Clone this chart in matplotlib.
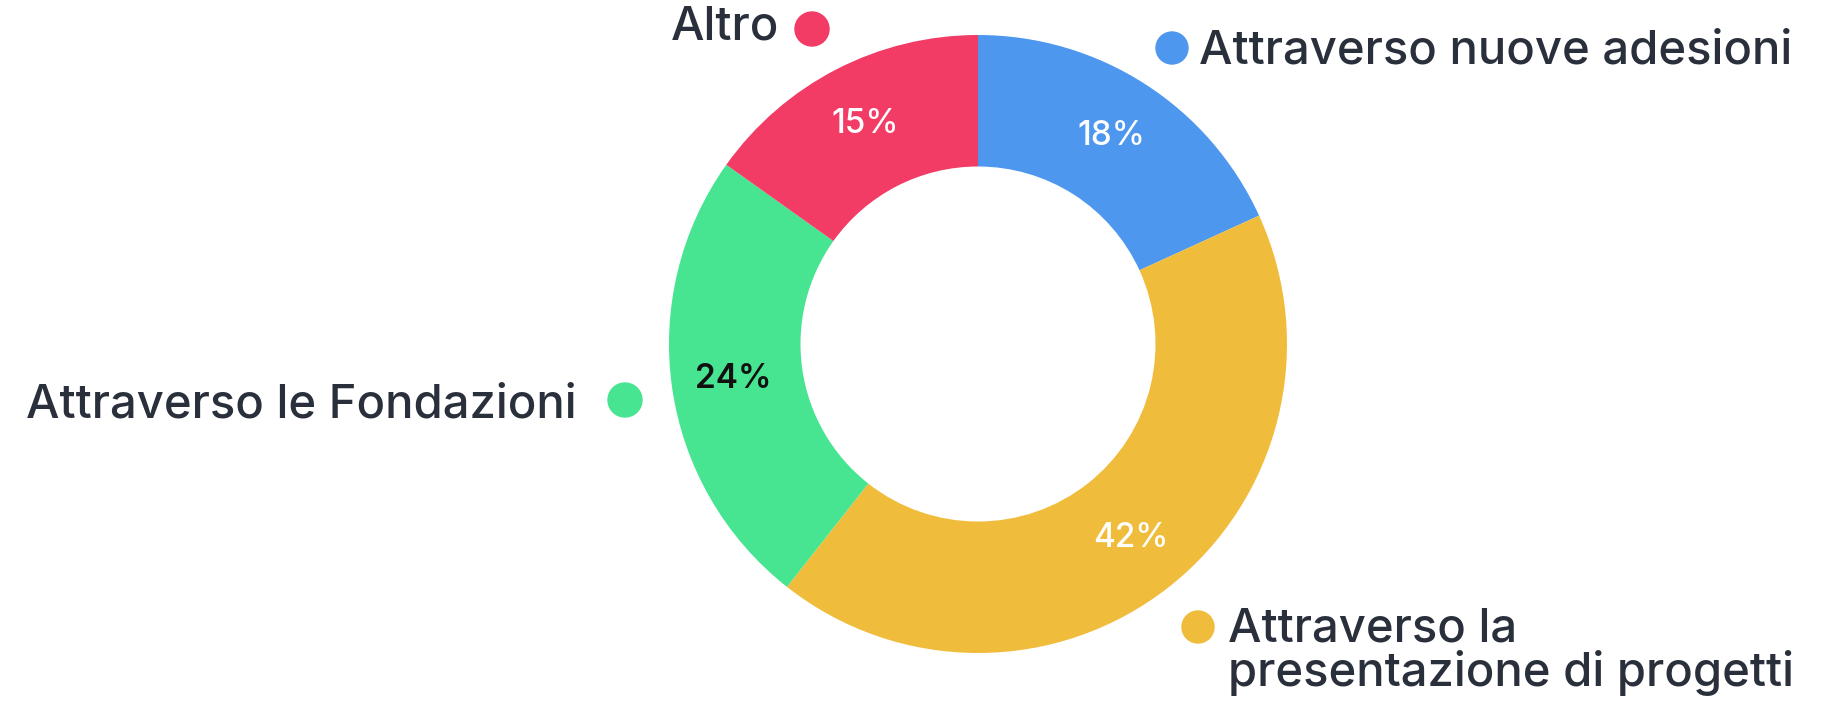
import matplotlib.pyplot as plt
from matplotlib.patches import Circle

# Dati del grafico
labels = ['Attraverso nuove adesioni', 'Attraverso la\npresentazione di progetti',
          'Attraverso le Fondazioni', 'Altro']
values = [18, 42, 24, 15]
colors = ['#4D97EE', '#F0BC3C', '#47E591', '#F23B65']
pct_colors = ['white', 'white', '#111111', 'white']

W, H = 1825, 710
text_color = '#2A303B'
plt.rcParams['font.family'] = ['Inter', 'DejaVu Sans']

fig = plt.figure(figsize=(W / 100, H / 100), dpi=100)
ax = fig.add_axes([0, 0, 1, 1])

wedges, texts, autotexts = ax.pie(
    values, colors=colors, startangle=90, counterclock=False,
    center=(978, H - 344), radius=309, frame=True,
    wedgeprops=dict(width=309 - 177.5, linewidth=0),
    autopct='%d%%', pctdistance=0.8,
)
# percentuali con il valore
for t, v, c in zip(autotexts, values, pct_colors):
    t.set_text(f'{v}%')
    t.set_color(c)
    t.set_fontsize(24)
    t.set_fontweight('semibold' if c != 'white' else 'medium')

ax.set_xlim(0, W)
ax.set_ylim(0, H)
ax.set_aspect('equal')
ax.axis('off')

# Etichette con pallino colorato
fs = 34
ax.text(1199, H - 63, labels[0], color=text_color, fontsize=fs, ha='left', va='baseline', fontweight='medium')
ax.add_patch(Circle((1172, H - 48), 16, color=colors[0]))

ax.text(1228, H - 686, labels[1], color=text_color, fontsize=fs, ha='left', va='baseline',
        fontweight='medium', linespacing=0.97)
ax.add_patch(Circle((1198, H - 627), 16, color=colors[1]))

ax.text(577, H - 417, labels[2], color=text_color, fontsize=fs, ha='right', va='baseline', fontweight='medium')
ax.add_patch(Circle((625, H - 400), 17, color=colors[2]))

ax.text(779, H - 39, labels[3], color=text_color, fontsize=fs, ha='right', va='baseline', fontweight='medium')
ax.add_patch(Circle((812, H - 29), 17, color=colors[3]))

fig.savefig('out.png', dpi=100, facecolor='white')
